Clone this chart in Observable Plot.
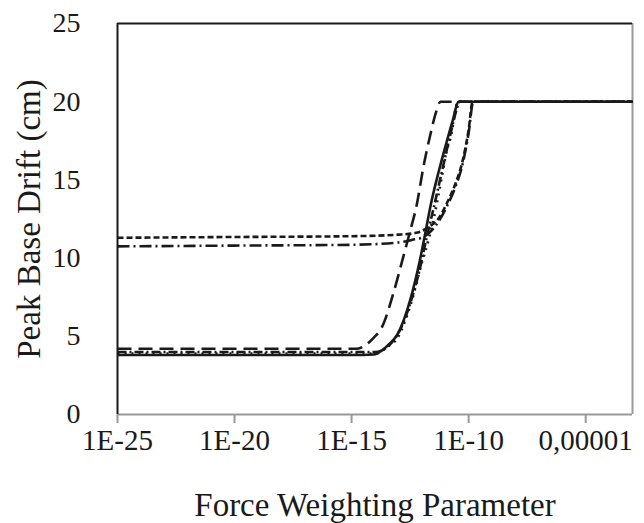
<!DOCTYPE html>
<html>
<head>
<meta charset="utf-8">
<script src="https://cdn.jsdelivr.net/npm/d3@7"></script>
<script src="https://cdn.jsdelivr.net/npm/@observablehq/plot@0.6"></script>
<style>
  html, body { margin: 0; padding: 0; background: #fff; }
  #chart svg { display: block; }
</style>
</head>
<body>
<div id="chart"></div>
<script>
// ---- Axis definitions ----
const xDomain = [1e-25, 1e-3];
const yDomain = [0, 25];
const xTicks = [1e-25, 1e-20, 1e-15, 1e-10, 1e-5];
const xTickLabels = ["1E-25", "1E-20", "1E-15", "1E-10", "0,00001"];
const yTicks = [0, 5, 10, 15, 20, 25];
const xTitle = "Force Weighting Parameter";
const yTitle = "Peak Base Drift (cm)";

// ---- Series (x = force weighting parameter, y = peak base drift, cm) ----
const solidX = [1e-25, 1e-20, 1e-15, 8.7e-15, 2.0e-14, 4.0e-14, 8.9e-14, 3.3e-13, 7.6e-13, 1.45e-12, 2.4e-12, 5.0e-12, 1.0e-11, 2.0e-11, 3.8e-11, 1e-5, 1e-3];
const solidY = [3.8, 3.8, 3.8, 3.84, 4.1, 4.5, 5.1, 7.4, 9.6, 11.7, 13.4, 15.4, 17.1, 18.7, 20, 20, 20];

const longDashX = [1e-25, 1e-20, 1e-15, 1.74e-15, 4.0e-15, 8.7e-15, 2.0e-14, 6.5e-14, 1.5e-13, 4.0e-13, 5.5e-13, 1.23e-12, 2.4e-12, 4.0e-12, 6.3e-12, 1e-5, 1e-3];
const longDashY = [4.2, 4.2, 4.2, 4.2, 4.45, 4.9, 5.6, 7.9, 9.9, 12.3, 13.1, 16.0, 18.0, 19.3, 20, 20, 20];

const dottedX = [1e-25, 1e-20, 1e-15, 1.0e-14, 3.2e-14, 1.0e-13, 2.3e-13, 3.3e-13, 1.05e-12, 1.45e-12, 3.3e-12, 5.4e-12, 1.23e-11, 1.7e-11, 3.5e-11, 1e-5, 1e-3];
const dottedY = [3.9, 3.9, 3.9, 3.9, 4.3, 5.0, 6.3, 7.0, 9.8, 10.5, 12.6, 14.2, 17.0, 17.7, 20, 20, 20];

const dashDotLowX = [1e-25, 1e-20, 1e-15, 1.0e-14, 3.2e-14, 1.0e-13, 3.2e-13, 7.9e-13, 1.6e-12, 3.2e-12, 7.9e-12, 1.6e-11, 3.2e-11, 4.0e-11, 1e-5, 1e-3];
const dashDotLowY = [4.0, 4.0, 4.0, 4.0, 4.3, 5.2, 7.1, 9.2, 11.3, 13.2, 15.8, 17.8, 19.6, 20, 20, 20];

const shortDashHighX = [1e-25, 1e-20, 1e-15, 1e-13, 5.0e-13, 8.9e-13, 2.0e-12, 5.0e-12, 1.26e-11, 2.8e-11, 5.5e-11, 1.0e-10, 1.48e-10, 1e-5, 1e-3];
const shortDashHighY = [11.3, 11.35, 11.4, 11.5, 11.6, 11.7, 12.0, 12.5, 13.6, 14.8, 16.2, 18.2, 20, 20, 20];

const dashDotHighX = [1e-25, 1e-20, 1e-15, 1e-13, 5.0e-13, 1.0e-12, 2.0e-12, 5.0e-12, 1.26e-11, 2.8e-11, 5.5e-11, 1.0e-10, 1.58e-10, 1e-5, 1e-3];
const dashDotHighY = [10.75, 10.8, 10.85, 11.0, 11.2, 11.3, 11.6, 12.3, 13.4, 14.6, 16.0, 18.0, 20, 20, 20];

const seriesNames = ["solid", "longDash", "dotted", "dashDotLow", "shortDashHigh", "dashDotHigh"];
const seriesX = [solidX, longDashX, dottedX, dashDotLowX, shortDashHighX, dashDotHighX];
const seriesY = [solidY, longDashY, dottedY, dashDotLowY, shortDashHighY, dashDotHighY];
const seriesDash = ["none", "14,7", "2,5", "9,3,2,3", "6,3", "12,4,2,4"];

const rows = name => {
  const i = seriesNames.indexOf(name);
  return seriesX[i].map((x, j) => ({x, y: seriesY[i][j]}));
};

const font = "'Liberation Serif', 'Times New Roman', serif";
const ink = "#1a1a1a";

const lineMarks = seriesNames.map((name, i) =>
  Plot.line(rows(name), {
    x: "x", y: "y",
    stroke: ink,
    strokeWidth: 2.6,
    strokeDasharray: seriesDash[i],
    strokeLinecap: "butt",
    curve: "monotone-x"
  })
);

const chart = Plot.plot({
  width: 644,
  height: 523,
  marginLeft: 117,
  marginRight: 12,
  marginTop: 23,
  marginBottom: 109,
  style: {fontFamily: font, background: "#fff", color: ink},
  x: {type: "log", domain: xDomain},
  y: {domain: yDomain},
  marks: [
    Plot.ruleY([yDomain[0]], {stroke: "#999", strokeWidth: 2}),
    Plot.ruleX([xDomain[1]], {stroke: "#999", strokeWidth: 2}),
    Plot.ruleY([yDomain[1]], {stroke: ink, strokeWidth: 2}),
    Plot.ruleX([xDomain[0]], {stroke: ink, strokeWidth: 2}),
    Plot.axisX(xTicks, {
      tickFormat: d => xTickLabels[xTicks.indexOf(d)],
      tickSize: 9,
      tickPadding: 6,
      stroke: "#999",
      strokeWidth: 2,
      fontSize: 29,
      fill: ink,
      label: null
    }),
    Plot.axisY(yTicks, {
      tickSize: 0,
      tickPadding: 37,
      fontSize: 28,
      fill: ink,
      label: null
    }),
    ...lineMarks,
    Plot.text([xTitle], {
      text: d => d,
      frameAnchor: "bottom",
      lineAnchor: "bottom",
      dy: 101,
      fontSize: 33,
      fill: ink
    }),
    Plot.text([yTitle], {
      text: d => d,
      frameAnchor: "left",
      rotate: -90,
      lineAnchor: "middle",
      textAnchor: "middle",
      dx: -88,
      fontSize: 33,
      fill: ink
    })
  ]
});
document.getElementById("chart").appendChild(chart);
</script>
</body>
</html>
